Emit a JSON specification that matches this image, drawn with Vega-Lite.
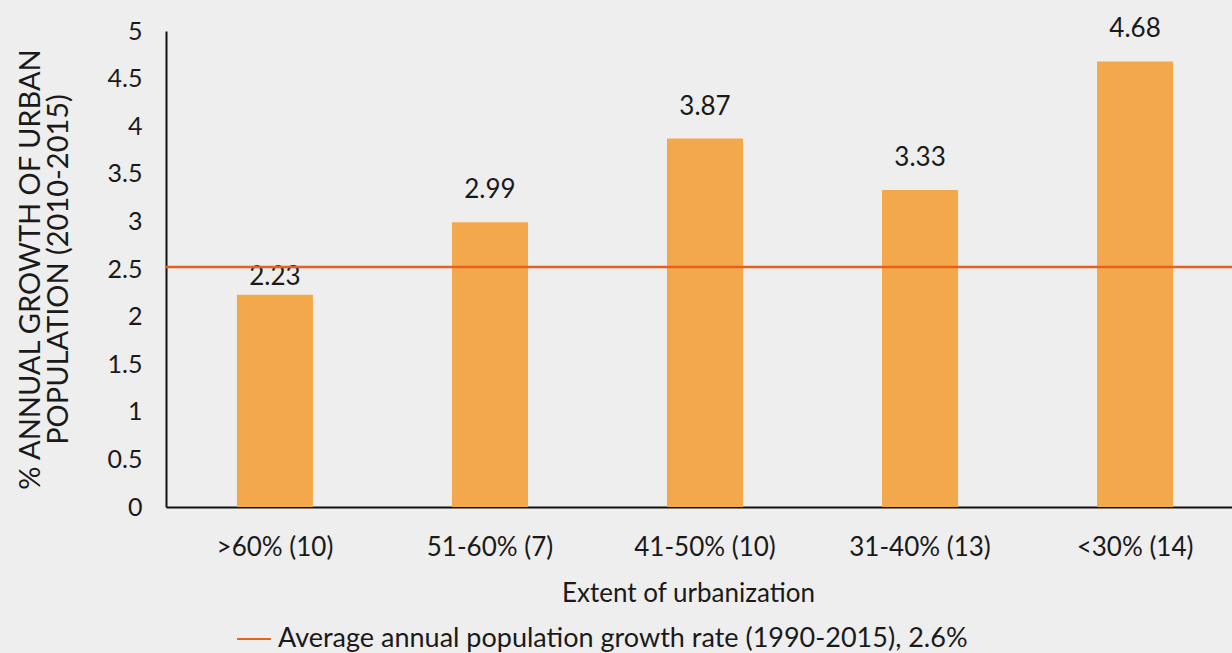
{
  "$schema": "https://vega.github.io/schema/vega-lite/v6.json",
  "width": 1066,
  "height": 476,
  "autosize": {"type": "none"},
  "padding": {"left": 166, "top": 31, "right": 0, "bottom": 146},
  "background": "#eeeeee",
  "config": {
    "view": {"stroke": null},
    "font": "Lato",
    "axis": {"labelFont": "Lato", "titleFont": "Lato", "labelColor": "#1a1a1a", "titleColor": "#1a1a1a", "grid": false}
  },
  "datasets": {
    "bars": [
      {"extent": ">60% (10)", "growth": 2.23},
      {"extent": "51-60% (7)", "growth": 2.99},
      {"extent": "41-50% (10)", "growth": 3.87},
      {"extent": "31-40% (13)", "growth": 3.33},
      {"extent": "<30% (14)", "growth": 4.68}
    ],
    "avg": [
      {"series": "Average annual population growth rate (1990-2015),  2.6%", "rate": 2.52}
    ]
  },
  "layer": [
    {
      "data": {"name": "bars"},
      "mark": {"type": "bar", "color": "#F4A84C"},
      "encoding": {
        "x": {
          "field": "extent", "type": "nominal", "sort": null,
          "scale": {"paddingInner": 0.6465, "paddingOuter": 0.33, "range": [0, 1078]},
          "axis": {
            "title": "Extent of urbanization", "titleFontSize": 26, "titleFontWeight": "normal", "titlePadding": 20, "titleX": 522,
            "labelFontSize": 26, "labelAngle": 0, "labelPadding": 27, "ticks": false,
            "domainColor": "#111111", "domainWidth": 2
          }
        },
        "y": {
          "field": "growth", "type": "quantitative",
          "scale": {"domain": [0, 5], "nice": false},
          "axis": {
            "title": ["% ANNUAL GROWTH OF URBAN", "POPULATION (2010-2015)"],
            "titleFontSize": 29, "titleFontWeight": "normal", "titlePadding": 34, "titleLineHeight": 28,
            "values": [0, 0.5, 1, 1.5, 2, 2.5, 3, 3.5, 4, 4.5, 5], "format": "~g",
            "labelFontSize": 25, "labelPadding": 24, "ticks": false,
            "domainColor": "#111111", "domainWidth": 2
          }
        }
      }
    },
    {
      "data": {"name": "bars"},
      "transform": [{"filter": "datum.growth > 2.5"}],
      "mark": {"type": "text", "fontSize": 26, "baseline": "middle", "dy": -32, "color": "#1a1a1a", "font": "Lato"},
      "encoding": {
        "x": {"field": "extent", "type": "nominal", "sort": null},
        "y": {"field": "growth", "type": "quantitative"},
        "text": {"field": "growth", "type": "quantitative", "format": ".2f"}
      }
    },
    {
      "data": {"name": "bars"},
      "transform": [{"filter": "datum.growth <= 2.5"}],
      "mark": {"type": "text", "fontSize": 26, "baseline": "middle", "dy": -18, "color": "#1a1a1a", "font": "Lato"},
      "encoding": {
        "x": {"field": "extent", "type": "nominal", "sort": null},
        "y": {"field": "growth", "type": "quantitative"},
        "text": {"field": "growth", "type": "quantitative", "format": ".2f"}
      }
    },
    {
      "data": {"name": "avg"},
      "mark": {"type": "rule", "strokeWidth": 2.5},
      "encoding": {
        "y": {"field": "rate", "type": "quantitative"},
        "stroke": {
          "field": "series", "type": "nominal",
          "scale": {"range": ["#E8601C"]},
          "legend": {
            "title": null, "orient": "none", "legendX": 70, "legendY": 590,
            "symbolType": "stroke", "symbolStrokeWidth": 2, "symbolSize": 1150,
            "labelFontSize": 27, "labelFont": "Lato", "labelColor": "#1a1a1a", "labelOffset": 6, "labelLimit": 1200
          }
        }
      }
    }
  ]
}
